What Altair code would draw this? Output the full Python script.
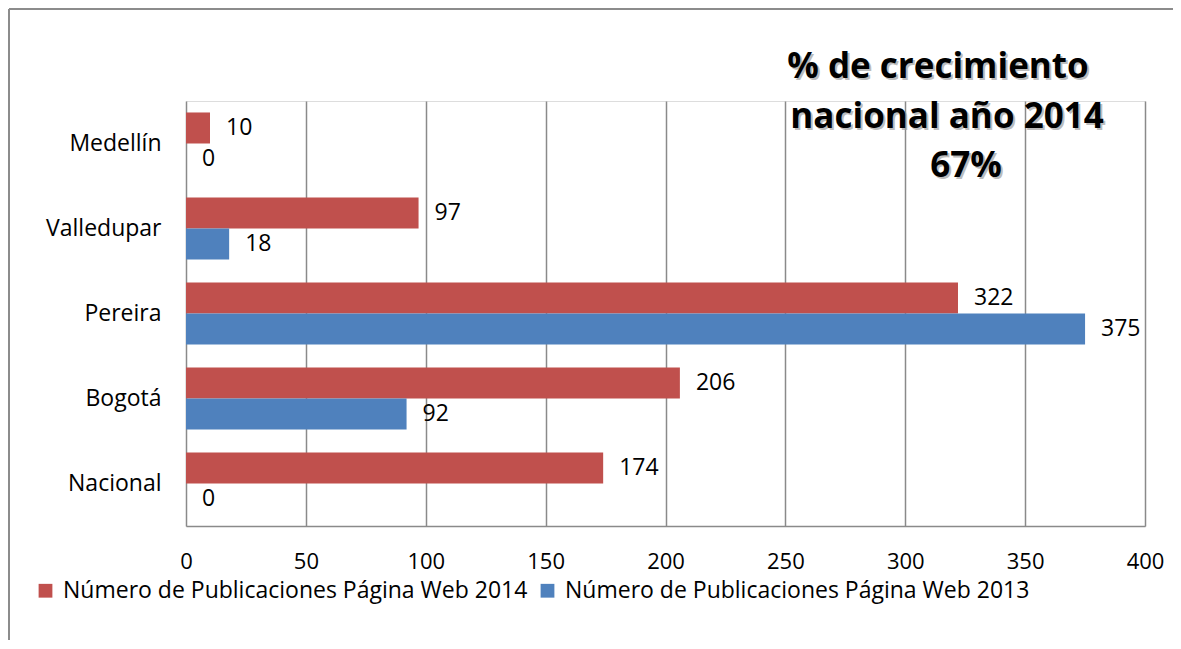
import altair as alt
import pandas as pd

ciudades = ["Medellín", "Valledupar", "Pereira", "Bogotá", "Nacional"]
serie_2014 = "Número de Publicaciones Página Web 2014"
serie_2013 = "Número de Publicaciones Página Web 2013"
valores_2014 = [10, 97, 322, 206, 174]
valores_2013 = [0, 18, 375, 92, 0]
ticks_x = [0, 50, 100, 150, 200, 250, 300, 350, 400]
titulo = ["% de crecimiento", "nacional año 2014", "67%"]

rows = []
for c, v14, v13 in zip(ciudades, valores_2014, valores_2013):
    rows.append({"ciudad": c, "serie": serie_2014, "valor": v14})
    rows.append({"ciudad": c, "serie": serie_2013, "valor": v13})
df = pd.DataFrame(rows)

FONT = "Open Sans"
GRID = "#8a8a8a"
series = [serie_2014, serie_2013]

base = alt.Chart(df).encode(
    y=alt.Y("ciudad:N", sort=ciudades, title=None,
            scale=alt.Scale(paddingInner=0.27, paddingOuter=0.135),
            axis=alt.Axis(domain=False, ticks=False, grid=False, labelFont=FONT,
                          labelFontSize=23, labelColor="#000000", labelPadding=25)),
    yOffset=alt.YOffset("serie:N", sort=series, scale=alt.Scale(paddingInner=0, paddingOuter=0)),
)

bars = base.mark_bar().encode(
    x=alt.X("valor:Q", title=None,
            scale=alt.Scale(domain=[0, 400], nice=False),
            axis=alt.Axis(values=ticks_x, grid=True, gridColor=GRID, gridWidth=1.5,
                          domain=True, domainColor=GRID, domainWidth=1.5, ticks=False,
                          labelFont=FONT, labelFontSize=22, labelColor="#000000",
                          labelPadding=25, labelFlush=False)),
    color=alt.Color("serie:N", sort=series, title=None,
                    scale=alt.Scale(domain=series, range=["#C0504D", "#4F81BD"]),
                    legend=alt.Legend(orient="none", legendX=-152, legendY=478,
                                      direction="horizontal", symbolType="square",
                                      symbolSize=190, symbolStrokeWidth=0,
                                      labelFont=FONT, labelFontSize=23, labelColor="#000000",
                                      labelOffset=6, columnPadding=8, labelLimit=600)),
)

labels = base.mark_text(align="left", baseline="middle", dx=16, font=FONT,
                        fontSize=23, color="#000000").encode(
    x=alt.X("valor:Q"),
    text=alt.Text("valor:Q"),
)

one = pd.DataFrame({"a": [0]})
frame_top = alt.Chart(one).mark_rule(stroke="#8c8c8c", strokeWidth=2).encode(
    x=alt.value(-177), x2=alt.value(1010), y=alt.value(-92))
frame_left = alt.Chart(one).mark_rule(stroke="#8c8c8c", strokeWidth=2).encode(
    x=alt.value(-177), y=alt.value(-92), y2=alt.value(560))

posiciones = [(752, -23), (761, 27), (780, 76)]
title_layers = []
for linea, (px, py) in zip(titulo, posiciones):
    d = pd.DataFrame({"t": [linea]})
    shadow = alt.Chart(d).mark_text(align="center", baseline="alphabetic", font=FONT,
                                    fontWeight="bold", fontSize=35, color="#a0a0a0",
                                    opacity=0.7).encode(
        text="t:N", x=alt.value(px + 2), y=alt.value(py + 2))
    front = alt.Chart(d).mark_text(align="center", baseline="alphabetic", font=FONT,
                                   fontWeight="bold", fontSize=35, color="#000000").encode(
        text="t:N", x=alt.value(px), y=alt.value(py))
    title_layers += [shadow, front]

chart = alt.layer(frame_top, frame_left, bars, labels, *title_layers).properties(
    width=959, height=425,
    autosize=alt.AutoSizeParams(type="none"),
    padding={"left": 178, "top": 93, "right": 28, "bottom": 114},
).configure_view(stroke=None).configure(background="white")

chart.save("out.html", embed_options={"renderer": "svg", "actions": False})
